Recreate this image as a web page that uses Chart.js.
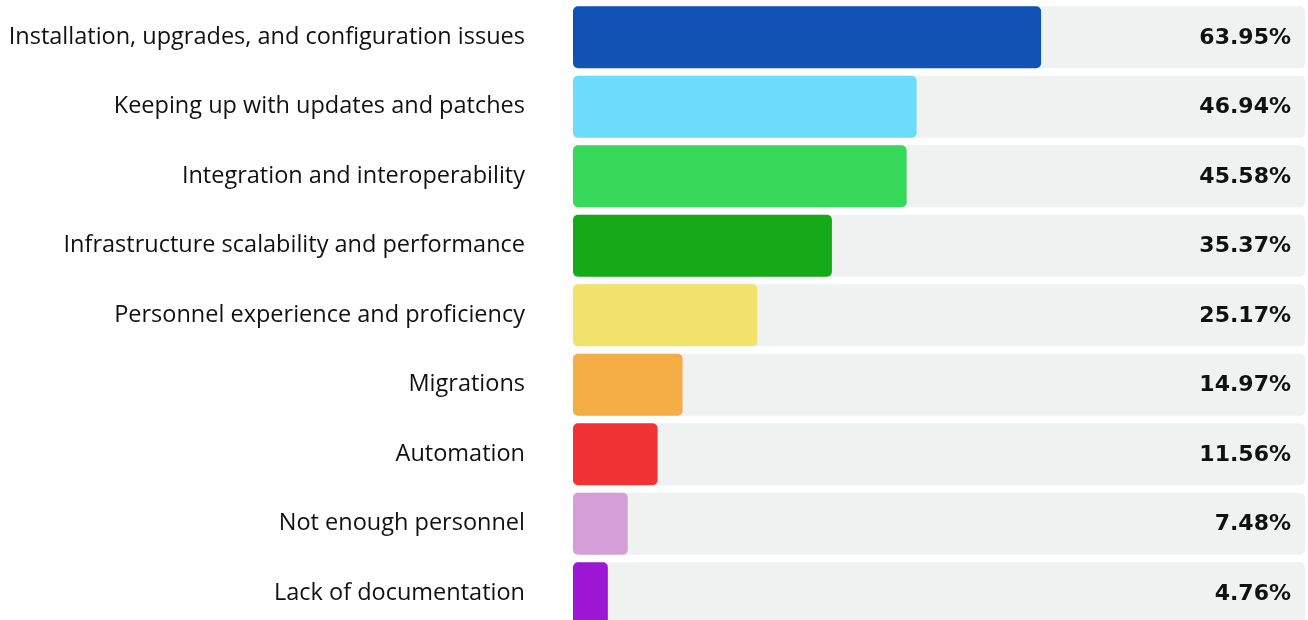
<!DOCTYPE html>
<html>
<head>
<meta charset="utf-8">
<script src="https://cdn.jsdelivr.net/npm/chart.js@4/dist/chart.umd.min.js"></script>
<style>
  html, body { margin: 0; padding: 0; background: #ffffff; overflow: hidden; }
  #c { display: block; }
</style>
</head>
<body>
<canvas id="c" width="1308" height="628"></canvas>
<script>
const categories = [
  "Installation, upgrades, and configuration issues",
  "Keeping up with updates and patches",
  "Integration and interoperability",
  "Infrastructure scalability and performance",
  "Personnel experience and proficiency",
  "Migrations",
  "Automation",
  "Not enough personnel",
  "Lack of documentation"
];
const values = [63.95, 46.94, 45.58, 35.37, 25.17, 14.97, 11.56, 7.48, 4.76];
const valueLabels = ["63.95%", "46.94%", "45.58%", "35.37%", "25.17%", "14.97%", "11.56%", "7.48%", "4.76%"];
const trackValues = [100, 100, 100, 100, 100, 100, 100, 100, 100];
const barColors = ["#1152b5", "#6ddcfb", "#36d95a", "#16aa18", "#f2e26b", "#f5ad45", "#f23333", "#d49ed6", "#9c16d4"];
const trackColor = "#f0f1f1";

const LABEL_FONT = "'Open Sans', Lato, sans-serif";
const VALUE_FONT = "'DejaVu Sans', 'Open Sans', sans-serif";

const valueLabelPlugin = {
  id: 'valueLabels',
  afterDatasetsDraw(chart) {
    const { ctx, chartArea } = chart;
    const meta = chart.getDatasetMeta(0);
    ctx.save();
    ctx.font = "bold 22px " + VALUE_FONT;
    ctx.fillStyle = "#111111";
    ctx.textAlign = "right";
    ctx.textBaseline = "middle";
    meta.data.forEach((bar, i) => {
      ctx.fillText(valueLabels[i], chartArea.right - 14, bar.y + 1);
    });
    ctx.restore();
  }
};

new Chart(document.getElementById('c'), {
  type: 'bar',
  data: {
    labels: categories,
    datasets: [
      {
        data: values,
        backgroundColor: barColors,
        borderRadius: 5,
        borderSkipped: false,
        grouped: false,
        order: 1,
        barPercentage: 0.892,
        categoryPercentage: 1
      },
      {
        data: trackValues,
        backgroundColor: trackColor,
        borderRadius: 5,
        borderSkipped: false,
        grouped: false,
        order: 2,
        barPercentage: 0.892,
        categoryPercentage: 1
      }
    ]
  },
  options: {
    indexAxis: 'y',
    responsive: false,
    animation: false,
    layout: { padding: { top: 2.5, right: 3, bottom: 0, left: 0 } },
    plugins: { legend: { display: false }, tooltip: { enabled: false } },
    scales: {
      x: { min: 0, max: 100, display: false },
      y: {
        grid: { display: false, drawTicks: false },
        border: { display: false },
        ticks: {
          color: "#111111",
          font: { family: LABEL_FONT, size: 23.5 },
          padding: 48,
          autoSkip: false
        },
        afterFit(axis) {
          axis.width = 573;
          axis.paddingTop = 0;
          axis.paddingBottom = 0;
        }
      }
    }
  },
  plugins: [valueLabelPlugin]
});
</script>
</body>
</html>
